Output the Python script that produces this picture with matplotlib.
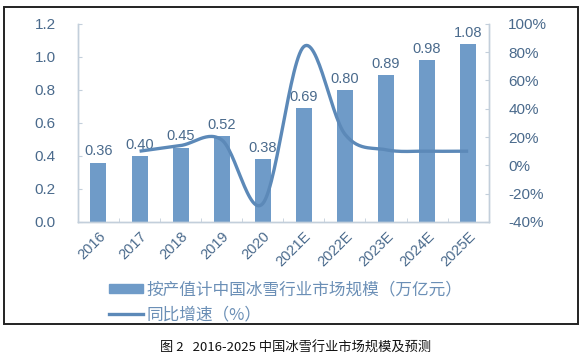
import numpy as np
import matplotlib
matplotlib.use("Agg")
import matplotlib.pyplot as plt
from matplotlib.patches import Rectangle
from matplotlib.lines import Line2D

plt.rcParams['font.family'] = ['Liberation Sans', 'Noto Sans CJK SC', 'DejaVu Sans']

years = ['2016', '2017', '2018', '2019', '2020', '2021E', '2022E', '2023E', '2024E', '2025E']
market_size = [0.36, 0.40, 0.45, 0.52, 0.38, 0.69, 0.80, 0.89, 0.98, 1.08]
# growth rate (2017 onward), in %
growth = [10, 14, 18, -27, 84, 22, 11, 10, 10]

BAR_C = '#6f9bc8'
LINE_C = '#5c89b8'
TXT_C = '#4a6a8c'
SPINE_C = '#c3cfdb'


def catmull_rom(x, y, n=30):
    """Smooth curve through the points, similar to a spreadsheet smoothed line"""
    x = np.asarray(x, float)
    y = np.asarray(y, float)
    px = np.concatenate([[2*x[0]-x[1]], x, [2*x[-1]-x[-2]]])
    py = np.concatenate([[2*y[0]-y[1]], y, [2*y[-1]-y[-2]]])
    xs, ys = [], []
    t = np.linspace(0, 1, n)
    for i in range(1, len(px)-2):
        for arr, out in ((px, xs), (py, ys)):
            p0, p1, p2, p3 = arr[i-1], arr[i], arr[i+1], arr[i+2]
            m1 = (p2 - p0) / 2
            m2 = (p3 - p1) / 2
            h00 = 2*t**3 - 3*t**2 + 1
            h10 = t**3 - 2*t**2 + t
            h01 = -2*t**3 + 3*t**2
            h11 = t**3 - t**2
            out.extend(h00*p1 + h10*m1 + h01*p2 + h11*m2)
    return np.array(xs), np.array(ys)


fig = plt.figure(figsize=(5.86, 3.62), dpi=100)
ax = fig.add_axes([0.133, 0.387, 0.701, 0.547])
ax2 = ax.twinx()

x = np.arange(len(years))
bars = ax.bar(x, market_size, width=0.39, color=BAR_C, zorder=2)
for xi, v in zip(x, market_size):
    ax.annotate(f'{v:.2f}', (xi, v), xytext=(0, 3), textcoords='offset points',
                ha='center', va='bottom', fontsize=10.5, color=TXT_C)

ax.set_xlim(-0.5, len(years) - 0.5)
ax.set_ylim(0, 1.2)
ax.set_yticks(np.arange(0, 1.21, 0.2))
ax.set_yticklabels([f'{v:.1f}' for v in np.arange(0, 1.21, 0.2)])
ax.set_xticks(x)
ax.set_xticklabels(years, rotation=45, ha='right', va='top', rotation_mode='anchor')
ax.set_xticks(np.arange(-0.5, len(years), 1), minor=True)
ax.tick_params(axis='x', which='major', length=0, pad=5, labelsize=10.5, labelcolor=TXT_C)
ax.tick_params(axis='x', which='minor', length=3, direction='in', color=SPINE_C)
ax.tick_params(axis='y', length=3, direction='in', color=SPINE_C, pad=16,
               labelsize=11, labelcolor=TXT_C)

sx, sy = catmull_rom(x[1:], growth)
ax2.plot(sx, sy, color=LINE_C, lw=2.4, solid_capstyle='butt', zorder=3)
ax2.set_ylim(-40, 100)
ax2.set_yticks(np.arange(-40, 101, 20))
ax2.set_yticklabels([f'{v}%' for v in range(-40, 101, 20)])
ax2.tick_params(axis='y', length=3, direction='in', color=SPINE_C, pad=14,
                labelsize=11, labelcolor=TXT_C)

for a in (ax, ax2):
    a.spines['top'].set_visible(False)
    for side in ('left', 'right', 'bottom'):
        a.spines[side].set_color(SPINE_C)
        a.spines[side].set_linewidth(1.0)

# legend below the plot
handles = [Rectangle((0, 0), 1, 1, color=BAR_C),
           Line2D([0], [0], color=LINE_C, lw=2.4)]
labels = ['按产值计中国冰雪行业市场规模（万亿元）', '同比增速（%）']
leg = fig.legend(handles, labels, loc='upper left', bbox_to_anchor=(0.172, 0.245),
                 frameon=False, handlelength=2.05, handleheight=0.45, handletextpad=0.2,
                 labelspacing=0.45, borderpad=0, prop={'family': ['Noto Sans CJK SC'], 'size': 12})
for t in leg.get_texts():
    t.set_color('#6b8fb6')

# outer frame
fig.patches.append(Rectangle((0.0068, 0.105), 0.9795, 0.876, transform=fig.transFigure,
                             fill=False, edgecolor='#222222', lw=1.4))

fig.text(0.505, 0.038, '图 2   2016-2025 中国冰雪行业市场规模及预测', ha='center', va='center',
         fontsize=9.5, color='#111111', family=['Noto Sans CJK SC'])

fig.savefig('out.png', dpi=100)
